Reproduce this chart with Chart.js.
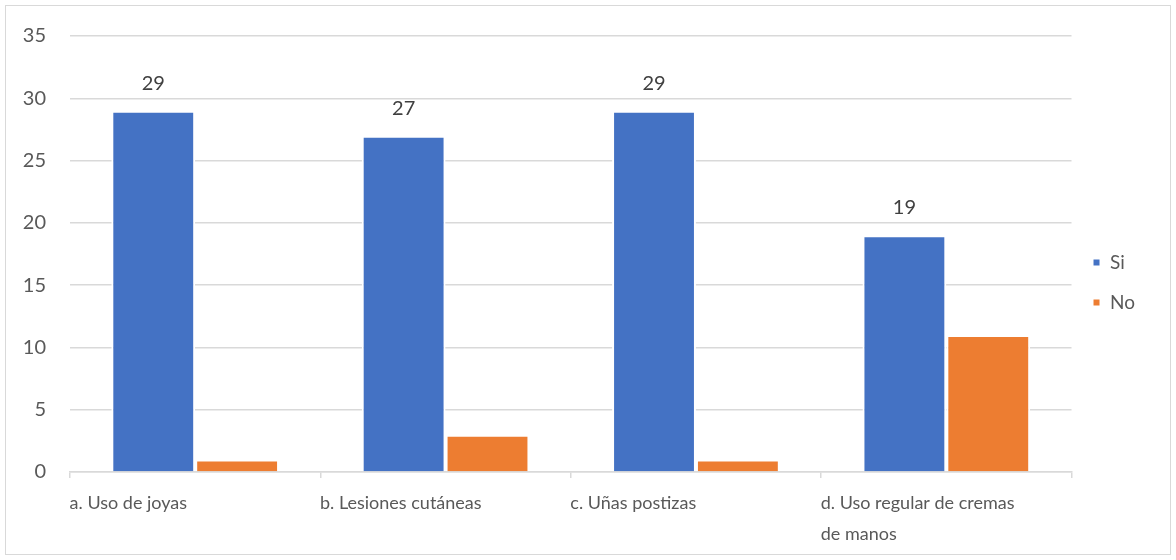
<!DOCTYPE html>
<html>
<head>
<meta charset="utf-8">
<script src="https://cdn.jsdelivr.net/npm/chart.js@4"></script>
<style>
  html, body { margin: 0; padding: 0; background: #fff; }
  #wrap { width: 1176px; height: 560px; position: relative; }
</style>
</head>
<body>
<div id="wrap"><canvas id="chart"></canvas></div>
<script>
// data
const categories = ['a. Uso de joyas', 'b. Lesiones cutáneas', 'c. Uñas postizas', ['d. Uso regular de cremas', 'de manos']];
const siValues = [29, 27, 29, 19];
const noValues = [1, 3, 1, 11];
const yTicks = [0, 5, 10, 15, 20, 25, 30, 35];

const FONT = 'Lato';
const TEXT = '#595959';
const GRID = '#d9d9d9';

// value labels above the "Si" bars
const barLabels = {
    id: 'barLabels',
    afterDatasetsDraw(chart) {
        const ctx = chart.ctx;
        const meta = chart.getDatasetMeta(0);
        ctx.save();
        ctx.font = '20px ' + FONT;
        ctx.fillStyle = '#404040';
        ctx.textAlign = 'center';
        ctx.textBaseline = 'alphabetic';
        meta.data.forEach((bar, i) => {
            ctx.fillText(String(siValues[i]), bar.x, bar.y - 21);
        });
        ctx.restore();
    }
};

// outer frame like the excel chart area
const frame = {
    id: 'frame',
    beforeDraw(chart) {
        const ctx = chart.ctx;
        ctx.save();
        ctx.fillStyle = '#fff';
        ctx.fillRect(0, 0, chart.width, chart.height);
        ctx.strokeStyle = GRID;
        ctx.lineWidth = 1;
        ctx.strokeRect(5.5, 5.5, chart.width - 11, chart.height - 11);
        ctx.restore();
    }
};

const chart = document.querySelector('#chart').getContext('2d');

new Chart(chart, {
    type: 'bar',
    data: {
        labels: categories,
        datasets: [
            {
                label: 'Si',
                data: siValues,
                backgroundColor: '#4472C4',
                borderColor: '#ffffff',
                borderWidth: 2,
                borderSkipped: 'bottom'
            },
            {
                label: 'No',
                data: noValues,
                backgroundColor: '#ED7D31',
                borderColor: '#ffffff',
                borderWidth: 2,
                borderSkipped: 'bottom'
            }
        ]
    },
    options: {
        responsive: true,
        maintainAspectRatio: false,
        animation: false,
        categoryPercentage: 0.67,
        barPercentage: 1,
        layout: { padding: { left: 6, top: 34, right: 31, bottom: 0 } },
        plugins: {
            legend: {
                position: 'right',
                align: 'start',
                // empty title used only as a spacer so the items sit mid-height
                title: {
                    display: true,
                    text: '',
                    font: { size: 10, lineHeight: 1 },
                    padding: { top: 188, bottom: 0 }
                },
                labels: {
                    boxWidth: 8,
                    boxHeight: 8,
                    padding: 21,
                    color: TEXT,
                    font: { family: FONT, size: 19 }
                }
            },
            tooltip: { enabled: false }
        },
        scales: {
            x: {
                offset: true,
                grid: {
                    offset: true,
                    drawOnChartArea: false,
                    color: GRID,
                    tickLength: 6,
                    lineWidth: 1.5
                },
                border: { color: GRID, width: 1.5 },
                ticks: {
                    align: 'start',
                    labelOffset: -125.6,
                    maxRotation: 0,
                    autoSkip: false,
                    padding: 10,
                    color: TEXT,
                    font: { family: FONT, size: 18, lineHeight: 1.72 }
                },
                afterFit(s) {
                    s.height = 88;
                    s.paddingLeft = 0;
                    s.paddingRight = 0;
                }
            },
            y: {
                min: 0,
                max: 35,
                afterBuildTicks(s) {
                    s.ticks = yTicks.map(v => ({ value: v }));
                },
                grid: { color: GRID, lineWidth: 1.5, drawTicks: false },
                border: { display: false },
                ticks: {
                    padding: 24,
                    color: TEXT,
                    font: { family: FONT, size: 20 }
                },
                afterFit(s) {
                    s.width = 64;
                }
            }
        }
    },
    plugins: [frame, barLabels]
});
</script>
</body>
</html>
